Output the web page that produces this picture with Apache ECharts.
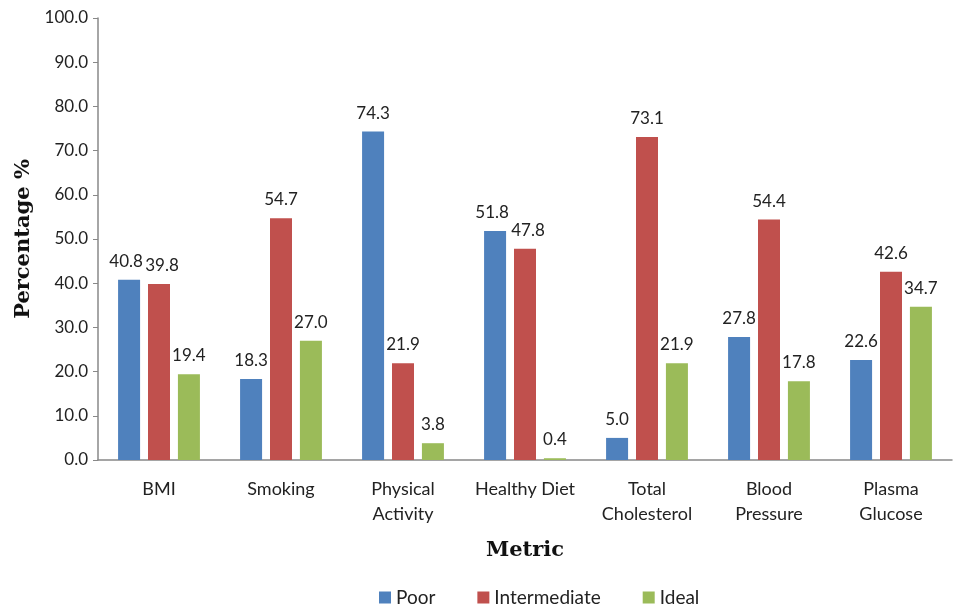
<!DOCTYPE html>
<html>
<head>
<meta charset="utf-8">
<script src="https://cdn.jsdelivr.net/npm/echarts@6/dist/echarts.min.js"></script>
<style>
  html, body { margin: 0; padding: 0; background: #fff; }
  #chart { width: 962px; height: 614px; }
</style>
</head>
<body>
<div id="chart"></div>
<script>
const categories = ["BMI", "Smoking", "Physical\nActivity", "Healthy Diet", "Total\nCholesterol", "Blood\nPressure", "Plasma\nGlucose"];
const poor = [40.8, 18.3, 74.3, 51.8, 5.0, 27.8, 22.6];
const intermediate = [39.8, 54.7, 21.9, 47.8, 73.1, 54.4, 42.6];
const ideal = [19.4, 27.0, 3.8, 0.4, 21.9, 17.8, 34.7];

const font = "Lato, 'Open Sans', sans-serif";
const serif = "'DejaVu Serif', serif";

// nudge labels apart where neighbouring bars are almost the same height
const crowded = [0, 3];

function barSeries(name, data, color, shift) {
  return {
    name: name,
    type: "bar",
    data: data.map((v, i) =>
      crowded.includes(i) ? { value: v, label: { offset: [shift, 0] } } : v
    ),
    barWidth: 22,
    barGap: "36%",
    itemStyle: { color: color },
    label: {
      show: true,
      position: "top",
      distance: 10,
      color: "#222",
      fontFamily: font,
      fontSize: 17,
      formatter: (p) => p.value.toFixed(1),
    },
  };
}

const chart = echarts.init(document.getElementById("chart"));
chart.setOption({
  animation: false,
  grid: { left: 98, right: 10, top: 18, bottom: 154 },
  legend: {
    bottom: 2,
    left: 374,
    itemWidth: 12,
    itemHeight: 12,
    itemGap: 42,
    icon: "rect",
    textStyle: { fontFamily: font, fontSize: 19, color: "#222" },
    data: ["Poor", "Intermediate", "Ideal"],
  },
  xAxis: {
    type: "category",
    data: categories,
    name: "Metric",
    nameLocation: "middle",
    nameGap: 80,
    nameTextStyle: { fontFamily: serif, fontWeight: "bold", fontSize: 21, color: "#111" },
    axisTick: { show: false },
    axisLine: { lineStyle: { color: "#888", width: 1.5 } },
    axisLabel: { fontFamily: font, fontSize: 18, color: "#222", margin: 17, lineHeight: 25, interval: 0 },
  },
  yAxis: {
    type: "value",
    min: 0,
    max: 100,
    interval: 10,
    name: "Percentage %",
    nameLocation: "middle",
    nameGap: 64,
    nameTextStyle: { fontFamily: serif, fontWeight: "bold", fontSize: 21, color: "#111" },
    axisLine: { show: true, lineStyle: { color: "#888", width: 1.5 } },
    axisTick: { show: true, length: 5, lineStyle: { color: "#888" } },
    splitLine: { show: false },
    axisLabel: {
      fontFamily: font,
      fontSize: 17,
      color: "#222",
      margin: 10,
      formatter: (v) => v.toFixed(1),
    },
  },
  series: [
    barSeries("Poor", poor, "#4F81BD", -3),
    barSeries("Intermediate", intermediate, "#C0504D", 3),
    barSeries("Ideal", ideal, "#9BBB59", 0),
  ],
});
</script>
</body>
</html>
